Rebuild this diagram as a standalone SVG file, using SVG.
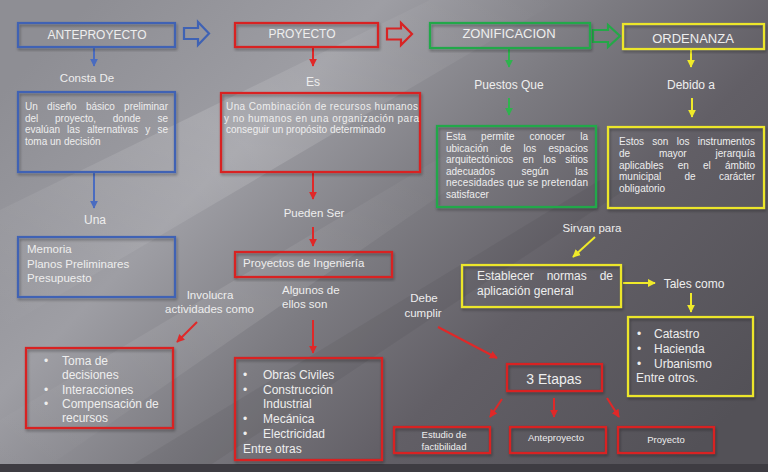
<svg xmlns="http://www.w3.org/2000/svg" width="768" height="472" viewBox="0 0 768 472">
<defs>
<linearGradient id="bg" x1="0" y1="0.2" x2="1" y2="0.8">
<stop offset="0" stop-color="#8e8e94"/>
<stop offset="0.28" stop-color="#9e9ea4"/>
<stop offset="0.5" stop-color="#7c7b81"/>
<stop offset="0.7" stop-color="#625f66"/>
<stop offset="1" stop-color="#535157"/>
</linearGradient>
<linearGradient id="streak" x1="0" y1="1" x2="1" y2="0">
<stop offset="0" stop-color="#ffffff" stop-opacity="0"/>
<stop offset="0.5" stop-color="#ffffff" stop-opacity="0.14"/>
<stop offset="1" stop-color="#ffffff" stop-opacity="0"/>
</linearGradient>
<filter id="sh" x="-10%" y="-10%" width="120%" height="130%">
<feDropShadow dx="1" dy="2" stdDeviation="1.5" flood-color="#000" flood-opacity="0.35"/>
</filter>
<marker id="mB" viewBox="0 0 10 10" refX="9" refY="5" markerWidth="8" markerHeight="8" markerUnits="userSpaceOnUse" orient="auto"><path d="M0,0 L10,5 L0,10 z" fill="#4a6cc0"/></marker>
<marker id="mR" viewBox="0 0 10 10" refX="9" refY="5" markerWidth="8" markerHeight="8" markerUnits="userSpaceOnUse" orient="auto"><path d="M0,0 L10,5 L0,10 z" fill="#e02828"/></marker>
<marker id="mG" viewBox="0 0 10 10" refX="9" refY="5" markerWidth="8" markerHeight="8" markerUnits="userSpaceOnUse" orient="auto"><path d="M0,0 L10,5 L0,10 z" fill="#2fb34e"/></marker>
<marker id="mY" viewBox="0 0 10 10" refX="9" refY="5" markerWidth="8" markerHeight="8" markerUnits="userSpaceOnUse" orient="auto"><path d="M0,0 L10,5 L0,10 z" fill="#f0ea2a"/></marker>
</defs>
<style>
text{font-family:"Liberation Sans",Arial,sans-serif;fill:#eeeeee}
.b{fill:none;stroke-width:2.2}
.blue{stroke:#3f62b4}
.red{stroke:#d82424}
.green{stroke:#24a848}
.yellow{stroke:#ece62a}
.ln{fill:none;stroke-width:2}
.t12{font-size:12px}
.t13{font-size:13px}
.t10{font-size:10px}
.t9{font-size:9.5px}
.t11{font-size:11.5px}
</style>
<rect x="0" y="0" width="768" height="472" fill="url(#bg)"/>
<polygon points="0,210 430,0 560,0 0,330" fill="url(#streak)"/>
<polygon points="0,420 470,140 520,140 40,472 0,472" fill="url(#streak)" opacity="0.7"/>
<polygon points="120,472 600,180 640,180 200,472" fill="#000" opacity="0.05"/>
<rect x="0" y="464" width="768" height="8" fill="#3e3c42"/>

<g id="connectors">
<path class="b blue" d="M184,28 H198 V22 L209,33.5 L198,45 V39 H184 Z"/>
<path class="b red" d="M387,28.5 H401 V23 L412,34 L401,45 V39.5 H387 Z"/>
<path class="b green" d="M593,30 H608 V25 L620,36 L608,47 V42 H593 Z"/>
<line class="ln" x1="94" y1="48" x2="94" y2="66" stroke="#4a6cc0" marker-end="url(#mB)"/>
<line class="ln" x1="94" y1="172" x2="94" y2="208" stroke="#4a6cc0" marker-end="url(#mB)"/>
<line class="ln" x1="313" y1="48" x2="313" y2="66" stroke="#e02828" marker-end="url(#mR)"/>
<line class="ln" x1="313" y1="172" x2="313" y2="199" stroke="#e02828" marker-end="url(#mR)"/>
<line class="ln" x1="313" y1="227" x2="313" y2="246" stroke="#e02828" marker-end="url(#mR)"/>
<line class="ln" x1="313" y1="320" x2="313" y2="353" stroke="#e02828" marker-end="url(#mR)"/>
<line class="ln" x1="197" y1="322" x2="177" y2="342" stroke="#e02828" marker-end="url(#mR)"/>
<line class="ln" x1="438" y1="327" x2="497" y2="358" stroke="#e02828" marker-end="url(#mR)"/>
<line class="ln" x1="502" y1="399" x2="490" y2="417" stroke="#e02828" marker-end="url(#mR)"/>
<line class="ln" x1="554" y1="398" x2="554" y2="417" stroke="#e02828" marker-end="url(#mR)"/>
<line class="ln" x1="607" y1="398" x2="619" y2="417" stroke="#e02828" marker-end="url(#mR)"/>
<line class="ln" x1="509" y1="49" x2="509" y2="67" stroke="#2fb34e" marker-end="url(#mG)"/>
<line class="ln" x1="509" y1="98" x2="509" y2="115" stroke="#2fb34e" marker-end="url(#mG)"/>
<line class="ln" x1="691" y1="50" x2="691" y2="67" stroke="#f0ea2a" marker-end="url(#mY)"/>
<line class="ln" x1="692" y1="98" x2="692" y2="117" stroke="#f0ea2a" marker-end="url(#mY)"/>
<line class="ln" x1="595" y1="237" x2="573" y2="257" stroke="#f0ea2a" marker-end="url(#mY)"/>
<line class="ln" x1="623" y1="283" x2="655" y2="283" stroke="#f0ea2a" marker-end="url(#mY)"/>
<line class="ln" x1="691" y1="293" x2="691" y2="312" stroke="#f0ea2a" marker-end="url(#mY)"/>
</g>

<g id="anteproyecto">
<rect class="b blue" x="18" y="23" width="157" height="24" filter="url(#sh)"/>
<text class="t12" x="97" y="38.5" text-anchor="middle">ANTEPROYECTO</text>
</g>
<g id="consta-de"><text class="t11" x="87" y="82" text-anchor="middle">Consta De</text></g>
<g id="diseno">
<rect class="b blue" x="18" y="92" width="157" height="80" filter="url(#sh)"/>
<text class="t10" y="110"><tspan x="25">Un</tspan><tspan x="47.1">diseño</tspan><tspan x="85.9">básico</tspan><tspan x="168" text-anchor="end">preliminar</tspan></text>
<text class="t10" y="121.5"><tspan x="25">del</tspan><tspan x="55">proyecto,</tspan><tspan x="112.8">donde</tspan><tspan x="168" text-anchor="end">se</tspan></text>
<text class="t10" y="133"><tspan x="25">evalúan</tspan><tspan x="67.1">las</tspan><tspan x="87">alternativas</tspan><tspan x="145.2">y</tspan><tspan x="168" text-anchor="end">se</tspan></text>
<text class="t10" x="25" y="144.5">toma un decisión</text>
</g>
<g id="una"><text class="t12" x="95" y="224" text-anchor="middle">Una</text></g>
<g id="memoria">
<rect class="b blue" x="18" y="237" width="157" height="60" filter="url(#sh)"/>
<text class="t11" x="27" y="253">Memoria</text>
<text class="t11" x="27" y="267.5">Planos Preliminares</text>
<text class="t11" x="27" y="282">Presupuesto</text>
</g>

<g id="proyecto">
<rect class="b red" x="235" y="23" width="143" height="24" filter="url(#sh)"/>
<text class="t12" x="302" y="37.5" text-anchor="middle">PROYECTO</text>
</g>
<g id="es"><text class="t12" x="313" y="86" text-anchor="middle">Es</text></g>
<g id="combinacion">
<rect class="b red" x="221" y="93" width="199" height="79" filter="url(#sh)"/>
<text class="t10" x="226" y="110" textLength="192" lengthAdjust="spacing">Una Combinación de recursos humanos</text>
<text class="t10" x="224" y="121.5" textLength="195" lengthAdjust="spacing">y no humanos en una organización para</text>
<text class="t10" x="226" y="133">conseguir un propósito determinado</text>
</g>
<g id="pueden-ser"><text class="t11" x="314" y="217" text-anchor="middle">Pueden Ser</text></g>
<g id="ingenieria">
<rect class="b red" x="235" y="252" width="157" height="25" filter="url(#sh)"/>
<text class="t11" x="243" y="267">Proyectos de Ingeniería</text>
</g>
<g id="algunos">
<text class="t11" x="282" y="294">Algunos de</text>
<text class="t11" x="282" y="308">ellos son</text>
</g>
<g id="obras">
<rect class="b red" x="235" y="358" width="147" height="102" filter="url(#sh)"/>
<text class="t12" y="379"><tspan x="243">•</tspan><tspan x="263">Obras Civiles</tspan></text>
<text class="t12" y="394"><tspan x="243">•</tspan><tspan x="263">Construcción</tspan></text>
<text class="t12" x="263" y="408">Industrial</text>
<text class="t12" y="423"><tspan x="243">•</tspan><tspan x="263">Mecánica</tspan></text>
<text class="t12" y="438"><tspan x="243">•</tspan><tspan x="263">Electricidad</tspan></text>
<text class="t12" x="243" y="453">Entre otras</text>
</g>
<g id="involucra">
<text class="t11" x="210" y="299" text-anchor="middle">Involucra</text>
<text class="t11" x="209.5" y="313" text-anchor="middle">actividades como</text>
</g>
<g id="toma">
<rect class="b red" x="26" y="348" width="147" height="80" filter="url(#sh)"/>
<text class="t12" y="365"><tspan x="44">•</tspan><tspan x="62">Toma de</tspan></text>
<text class="t12" x="62" y="379">decisiones</text>
<text class="t12" y="393.5"><tspan x="44">•</tspan><tspan x="62">Interacciones</tspan></text>
<text class="t12" y="408"><tspan x="44">•</tspan><tspan x="62">Compensación de</tspan></text>
<text class="t12" x="62" y="422">recursos</text>
</g>
<g id="debe-cumplir">
<text class="t11" x="424" y="302" text-anchor="middle">Debe</text>
<text class="t11" x="423" y="317" text-anchor="middle">cumplir</text>
</g>
<g id="etapas">
<rect class="b red" x="507" y="364" width="95" height="27" filter="url(#sh)"/>
<text x="554" y="384" text-anchor="middle" font-size="14">3 Etapas</text>
</g>
<g id="estudio">
<rect class="b red" x="394" y="427" width="96" height="26" filter="url(#sh)"/>
<text class="t9" x="444" y="438" text-anchor="middle">Estudio de</text>
<text class="t9" x="444" y="450" text-anchor="middle">factibilidad</text>
</g>
<g id="anteproyecto-etapa">
<rect class="b red" x="510" y="427" width="96" height="26" filter="url(#sh)"/>
<text class="t9" x="556" y="441" text-anchor="middle">Anteproyecto</text>
</g>
<g id="proyecto-etapa">
<rect class="b red" x="618" y="427" width="96" height="26" filter="url(#sh)"/>
<text class="t9" x="666" y="443" text-anchor="middle">Proyecto</text>
</g>

<g id="zonificacion">
<rect class="b green" x="430" y="23" width="160" height="25" filter="url(#sh)"/>
<text class="t13" x="509" y="37.5" text-anchor="middle">ZONIFICACION</text>
</g>
<g id="puestos-que"><text class="t12" x="509" y="89" text-anchor="middle">Puestos Que</text></g>
<g id="ubicacion">
<rect class="b green" x="437" y="126" width="159" height="81" filter="url(#sh)"/>
<text class="t10" y="140"><tspan x="446">Esta</tspan><tspan x="481.1">permite</tspan><tspan x="529.5">conocer</tspan><tspan x="588" text-anchor="end">la</tspan></text>
<text class="t10" y="151.5"><tspan x="446">ubicación</tspan><tspan x="500.3">de</tspan><tspan x="523.5">los</tspan><tspan x="588" text-anchor="end">espacios</tspan></text>
<text class="t10" y="163"><tspan x="446">arquitectónicos</tspan><tspan x="522.7">en</tspan><tspan x="543.2">los</tspan><tspan x="588" text-anchor="end">sitios</tspan></text>
<text class="t10" y="174.5"><tspan x="446">adecuados</tspan><tspan x="521.4">según</tspan><tspan x="588" text-anchor="end">las</tspan></text>
<text class="t10" x="446" y="186" textLength="142" lengthAdjust="spacing">necesidades que se pretendan</text>
<text class="t10" x="446" y="197.5">satisfacer</text>
</g>

<g id="ordenanza">
<rect class="b yellow" x="623" y="24" width="141" height="25" filter="url(#sh)"/>
<text class="t13" x="693" y="43" text-anchor="middle">ORDENANZA</text>
</g>
<g id="debido-a"><text class="t12" x="691" y="89" text-anchor="middle">Debido a</text></g>
<g id="instrumentos">
<rect class="b yellow" x="608" y="127" width="156" height="81" filter="url(#sh)"/>
<text class="t10" y="145"><tspan x="619">Estos</tspan><tspan x="652.3">son</tspan><tspan x="676.7">los</tspan><tspan x="755" text-anchor="end">instrumentos</tspan></text>
<text class="t10" y="157"><tspan x="619">de</tspan><tspan x="658.9">mayor</tspan><tspan x="755" text-anchor="end">jerarquía</tspan></text>
<text class="t10" y="168.5"><tspan x="619">aplicables</tspan><tspan x="677.7">en</tspan><tspan x="703">el</tspan><tspan x="755" text-anchor="end">ámbito</tspan></text>
<text class="t10" y="180"><tspan x="619">municipal</tspan><tspan x="684.5">de</tspan><tspan x="755" text-anchor="end">carácter</tspan></text>
<text class="t10" x="619" y="192">obligatorio</text>
</g>
<g id="sirvan-para"><text class="t11" x="592" y="232" text-anchor="middle">Sirvan para</text></g>
<g id="establecer">
<rect class="b yellow" x="462" y="265" width="159" height="42" filter="url(#sh)"/>
<text class="t12" y="280"><tspan x="477">Establecer</tspan><tspan x="546.7">normas</tspan><tspan x="613" text-anchor="end">de</tspan></text>
<text class="t12" x="477" y="295">aplicación general</text>
</g>
<g id="tales-como"><text class="t12" x="694" y="288" text-anchor="middle">Tales como</text></g>
<g id="catastro">
<rect class="b yellow" x="628" y="317" width="125" height="79" filter="url(#sh)"/>
<text class="t12" y="338"><tspan x="637">•</tspan><tspan x="654">Catastro</tspan></text>
<text class="t12" y="352.5"><tspan x="637">•</tspan><tspan x="654">Hacienda</tspan></text>
<text class="t12" y="367.5"><tspan x="637">•</tspan><tspan x="654">Urbanismo</tspan></text>
<text class="t12" x="636" y="382">Entre otros.</text>
</g>
</svg>
